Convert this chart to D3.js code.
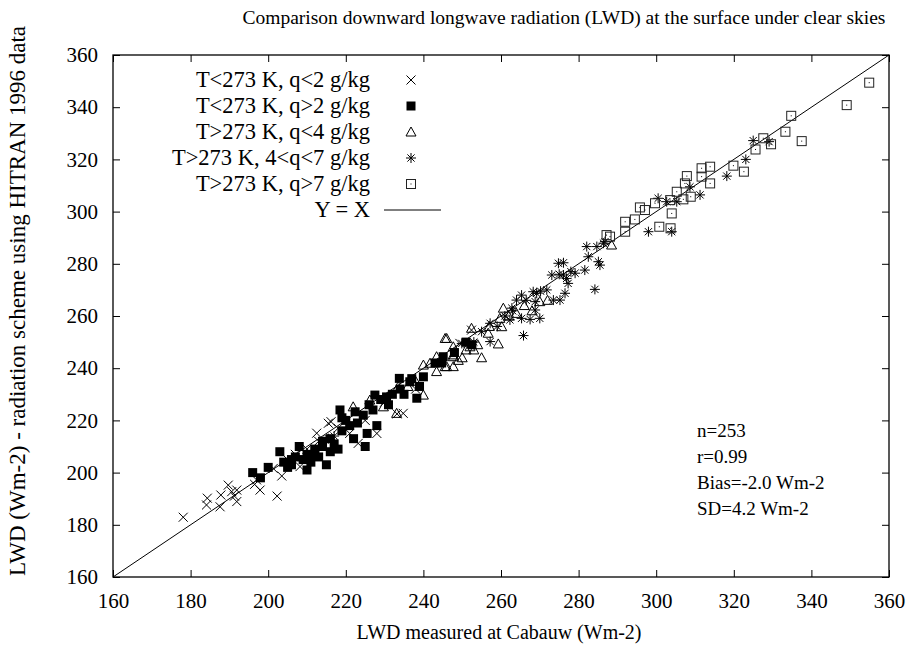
<!DOCTYPE html>
<html><head><meta charset="utf-8">
<script src="https://cdn.jsdelivr.net/npm/d3@7/dist/d3.min.js"></script>
<style>body{margin:0;background:#fff}svg{display:block}text{font-family:"Liberation Serif","DejaVu Serif",serif}</style>
</head><body><svg id="c" width="908" height="652"></svg>
<script>
const xTicks=[160,180,200,220,240,260,280,300,320,340,360];
const yTicks=[160,180,200,220,240,260,280,300,320,340,360];
const seriesNames=["T<273 K, q<2 g/kg","T<273 K, q>2 g/kg","T>273 K, q<4 g/kg","T>273 K, 4<q<7 g/kg","T>273 K, q>7 g/kg"];
const statsLines=["n=253","r=0.99","Bias=-2.0 Wm-2","SD=4.2 Wm-2"];
const s1=[[178.1,182.9],[184.3,190.2],[184.1,187.6],[187.8,191.4],[187.6,186.9],[189.7,195.2],[190.6,192.7],[191.9,193.3],[191.9,188.9],[191.3,191],[197,197.2],[197.9,193.3],[196.5,195.5],[202.3,191],[203.5,198.7],[201.3,201.6],[208.2,202.3],[205,205],[207,207],[210,209],[212.5,215.1],[213,212],[215.5,218.9],[216.2,219.5],[218,217],[221,215],[223.2,211.2],[225,220],[228,215],[230,227],[233.2,222.5],[234.8,222.7],[238,232],[249.4,249.5],[252.4,254.6]];
const s2=[[196,200],[198,198],[200,202],[203,208],[204,204],[205,202],[206,203],[206,205],[207,206],[208,210],[209,205],[210,207],[210,201],[211,204],[212,209],[212,207],[213,206],[214,212],[214,210],[215,203],[216,213],[216,208],[217,211],[218,209],[218.5,224],[219,216],[219,221],[220,220],[221,218],[222,213],[222.4,223.3],[223,219],[224.5,222],[225,210],[225.5,215],[226,226],[227,224],[227.5,229.7],[228,218],[229,228],[230.5,229],[231,226],[232,230],[233.8,236.1],[234,232],[235,230],[236.5,234.8],[237,236],[238.3,228.5],[239,233],[240,236.7],[243,242],[244.7,242],[245.1,244.4],[248,246],[251,250],[252.5,249]];
const s3=[[221.9,225.2],[226.2,227.8],[229.7,225.2],[233.1,222.7],[233.5,232.9],[236,233],[238,235],[240,229.7],[240,241.2],[241.7,241.9],[243.4,238.7],[243.4,244.4],[245.6,240.6],[246,240.6],[247.7,240.6],[245.6,251.4],[247.7,245.1],[246,251.4],[247.7,248.2],[247.7,244.4],[249,243],[250,244],[251,247],[252.4,255.3],[252,248.2],[253,247],[254,249],[255,244],[256.7,253.4],[257,256],[259.3,249.3],[259.7,259.1],[260.2,255.9],[260.6,263],[262,260],[264,261],[266,264],[268,262],[270,265.5],[272,266],[288.5,287.2]];
const s4=[[215.5,213],[217,214],[249.9,249.5],[253,250],[255,254],[257.2,257.2],[257.2,250.2],[259,256],[261,260],[262.3,258.5],[263,262],[265.3,259.1],[267.5,258.7],[270,259.1],[265.8,252.5],[262.8,263],[264,266.1],[265.3,268],[266.5,266],[268.3,269.3],[269.2,268.7],[270.2,269.5],[268.8,265.5],[268.8,262.3],[271.8,270],[273.5,266.1],[275.2,266.1],[276.5,268.7],[273.1,275.7],[275,276],[276.1,275.7],[276.9,274.4],[277.3,272.5],[278,277],[279.1,276.4],[281.6,277.6],[274.8,280.2],[276.1,280.4],[284.2,270.2],[282.1,286.6],[282.5,282.7],[284.7,286.6],[285.1,280.8],[285.5,279.5],[286.4,287.9],[286.8,288.5],[298,292.3],[304,292.3],[300.5,305.1],[302.7,303.8],[305.3,303.8],[308.7,309.5],[311.3,306.4],[318.2,313.6],[323.1,320],[325,327.2],[329.1,326.8]];
const s5=[[287.2,291],[288.1,290.4],[292,296.1],[292,292.3],[294.5,297],[295.8,301.6],[297.1,300.6],[299.7,303.2],[300.8,294.2],[303.6,304.4],[303.7,293.6],[304,299.3],[305.3,307.6],[307,304.7],[307.4,310.8],[307.9,313.6],[308.9,305.7],[311.7,316.6],[311.7,313.4],[313.9,317.2],[313.9,310.8],[319.9,317.6],[322.6,315.3],[325.6,323.8],[327.6,328.1],[329.6,325.8],[333.3,330.6],[334.8,336.7],[337.5,327],[349.1,340.8],[354.9,349.4]];
const seriesData=[s1,s2,s3,s4,s5];

const svg=d3.select("#c");
const m={l:113,r:889,t:55,b:577};
const x=d3.scaleLinear().domain([160,360]).range([m.l,m.r]);
const y=d3.scaleLinear().domain([160,360]).range([m.b,m.t]);

const shapes=[
 g=>g.append("path").attr("d","M-4.5,-4.5L4.5,4.5M-4.5,4.5L4.5,-4.5").attr("stroke","#000").attr("fill","none"),
 g=>g.append("rect").attr("x",-4.5).attr("y",-4.5).attr("width",9).attr("height",9).attr("fill","#000"),
 g=>g.append("path").attr("d","M0,-5L5,4L-5,4Z").attr("stroke","#000").attr("fill","none"),
 g=>g.append("path").attr("d","M-5,0L5,0M0,-5L0,5M-3.6,-3.6L3.6,3.6M-3.6,3.6L3.6,-3.6").attr("stroke","#000").attr("fill","none"),
 g=>{g.append("rect").attr("x",-4.5).attr("y",-4.5).attr("width",9).attr("height",9).attr("stroke","#222").attr("fill","none");
     g.append("rect").attr("x",-0.5).attr("y",-0.5).attr("width",1).attr("height",1).attr("fill","#000");}
];

// axes
const fs=21;
const xa=svg.append("g").attr("transform",`translate(0,${m.b})`).call(d3.axisBottom(x).tickValues(xTicks).tickSizeInner(-7).tickSizeOuter(0).tickPadding(16));
const xt=svg.append("g").attr("transform",`translate(0,${m.t})`).call(d3.axisTop(x).tickValues(xTicks).tickSizeInner(-7).tickSizeOuter(0).tickFormat(""));
const ya=svg.append("g").attr("transform",`translate(${m.l},0)`).call(d3.axisLeft(y).tickValues(yTicks).tickSizeInner(-7).tickSizeOuter(0).tickPadding(15));
const yr=svg.append("g").attr("transform",`translate(${m.r},0)`).call(d3.axisRight(y).tickValues(yTicks).tickSizeInner(-7).tickSizeOuter(0).tickFormat(""));
[xa,xt,ya,yr].forEach(a=>{a.select(".domain").remove();a.selectAll("line").attr("stroke","#000");a.selectAll("text").attr("font-size",fs).attr("font-family","Liberation Serif").attr("fill","#000");});
svg.append("rect").attr("x",m.l).attr("y",m.t).attr("width",m.r-m.l).attr("height",m.b-m.t).attr("fill","none").attr("stroke","#000").attr("stroke-width",1.3);

// Y = X
svg.append("line").attr("x1",x(160)).attr("y1",y(160)).attr("x2",x(360)).attr("y2",y(360)).attr("stroke","#000");

// points
seriesData.forEach((data,i)=>{
  svg.append("g").selectAll("g").data(data).join("g")
   .attr("transform",d=>`translate(${x(d[0])},${y(d[1])})`).each(function(){shapes[i](d3.select(this));});
});

// legend
const lg=svg.append("g");
const rowY=[80,106,132,158,184,210];
seriesNames.concat(["Y = X"]).forEach((t,i)=>{
  lg.append("text").attr("x",370).attr("y",rowY[i]+7).attr("text-anchor","end").attr("font-size",22.5).text(t);
  if(i<5){const g=lg.append("g").attr("transform",`translate(411,${rowY[i]})`);shapes[i](g);}
  else lg.append("line").attr("x1",384).attr("x2",441).attr("y1",rowY[i]).attr("y2",rowY[i]).attr("stroke","#000");
});

// stats
statsLines.forEach((t,i)=>svg.append("text").attr("x",697).attr("y",437+i*26).attr("font-size",19).text(t));

// titles
svg.append("text").attr("x",564).attr("y",24).attr("text-anchor","middle").attr("font-size",19.5).text("Comparison downward longwave radiation (LWD) at the surface under clear skies");
svg.append("text").attr("x",499).attr("y",639).attr("text-anchor","middle").attr("font-size",20).text("LWD measured at Cabauw (Wm-2)");
svg.append("text").attr("transform","translate(25,301) rotate(-90)").attr("text-anchor","middle").attr("font-size",23).text("LWD (Wm-2) - radiation scheme using HITRAN 1996 data");
</script></body></html>
